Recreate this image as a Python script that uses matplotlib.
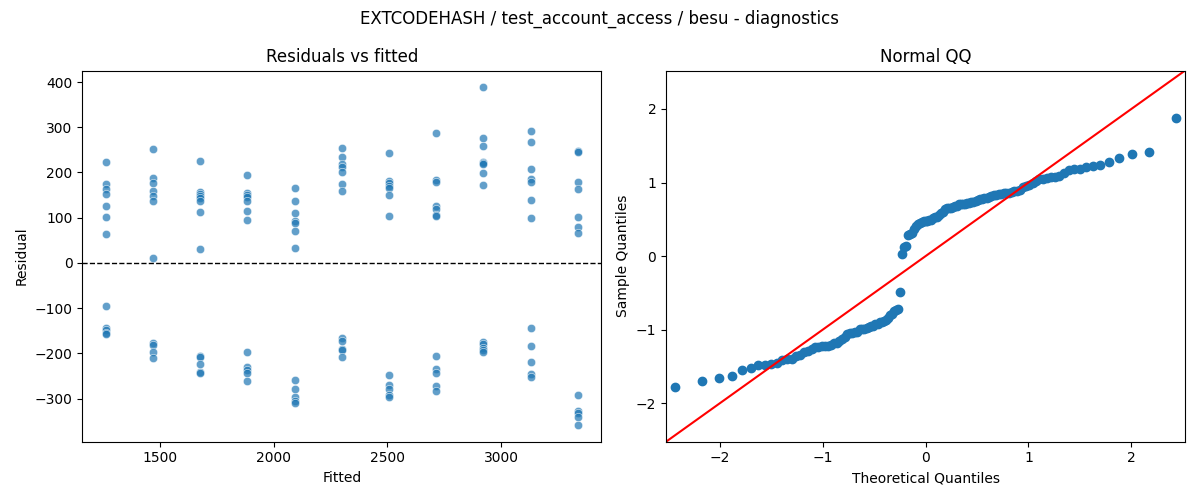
from statistics import NormalDist

import numpy as np
import matplotlib
matplotlib.use("Agg")
import matplotlib.pyplot as plt
import seaborn as sns

title = "EXTCODEHASH / test_account_access / besu - diagnostics"

# fitted value of each group (x positions in the residual plot)
fitted_levels = [1261, 1469, 1676, 1884, 2092, 2299, 2507, 2714, 2922, 3130, 3337]

# residuals, one list per fitted level
residual_groups = [
    [223, 175, 164, 153, 125, 101, 63, -95, -143, -148, -155, -158],
    [252, 187, 176, 160, 148, 137, 11, -177, -182, -196, -210],
    [226, 156, 152, 148, 143, 137, 112, 31, -205, -208, -224, -242, -244],
    [195, 155, 150, 145, 138, 114, 96, -197, -231, -237, -243, -261],
    [166, 136, 110, 93, 88, 70, 33, -258, -279, -297, -306, -310],
    [254, 234, 218, 212, 201, 174, 158, -167, -173, -190, -193, -208],
    [243, 182, 176, 170, 165, 150, 104, -248, -270, -279, -293, -296],
    [287, 184, 179, 126, 120, 105, 103, -206, -235, -243, -272, -283],
    [388, 276, 258, 224, 220, 218, 198, 172, -175, -179, -188, -192, -198],
    [292, 267, 207, 185, 180, 140, 99, -144, -184, -219, -246, -252],
    [247, 245, 179, 163, 101, 79, 66, -291, -328, -332, -340, -358],
]


def main():
    fitted = np.concatenate([[f] * len(g) for f, g in zip(fitted_levels, residual_groups)])
    resid = np.concatenate([np.array(g, dtype=float) for g in residual_groups])

    # normal QQ of the standardised residuals (positions i/(n+1))
    std_resid = np.sort((resid - resid.mean()) / resid.std(ddof=1))
    n = len(std_resid)
    nd = NormalDist()
    theo = np.array([nd.inv_cdf(i / (n + 1)) for i in range(1, n + 1)])

    fig, (ax1, ax2) = plt.subplots(1, 2, figsize=(12, 5))

    sns.scatterplot(x=fitted, y=resid, ax=ax1, alpha=0.7)
    ax1.axhline(0, color="black", linestyle="--", linewidth=1)
    ax1.set_title("Residuals vs fitted")
    ax1.set_xlabel("Fitted")
    ax1.set_ylabel("Residual")

    ax2.plot(theo, std_resid, "o", color="C0", linestyle="None")
    lim = 2.52
    ax2.plot([-lim, lim], [-lim, lim], "r")
    ax2.set_xlim(-lim, lim)
    ax2.set_ylim(-lim, lim)
    ax2.set_title("Normal QQ")
    ax2.set_xlabel("Theoretical Quantiles")
    ax2.set_ylabel("Sample Quantiles")

    fig.suptitle(title)
    fig.tight_layout()
    fig.savefig("out.png", dpi=100)


if __name__ == "__main__":
    main()
